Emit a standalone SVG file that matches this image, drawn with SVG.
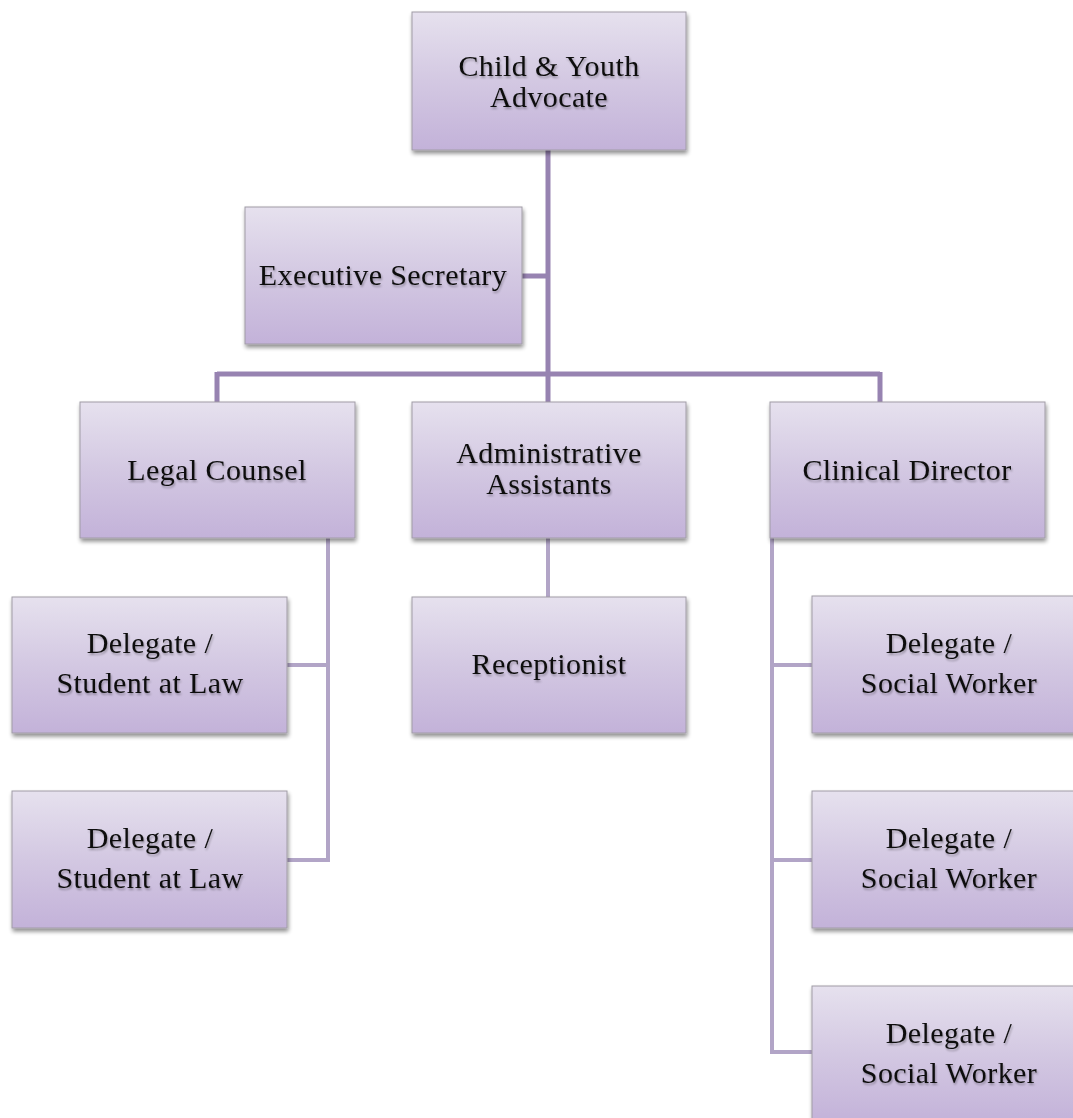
<svg xmlns="http://www.w3.org/2000/svg" width="1073" height="1118" viewBox="0 0 1073 1118">
  <defs>
    <linearGradient id="g" x1="0" y1="0" x2="0" y2="1">
      <stop offset="0" stop-color="#e6e1ee"/>
      <stop offset="0.5" stop-color="#d3c8e2"/>
      <stop offset="1" stop-color="#c3b2d9"/>
    </linearGradient>
    <filter id="sh" x="-10%" y="-10%" width="120%" height="125%">
      <feGaussianBlur in="SourceAlpha" stdDeviation="2"/>
      <feOffset dx="1" dy="3" result="b"/>
      <feComponentTransfer><feFuncA type="linear" slope="0.45"/></feComponentTransfer>
      <feMerge><feMergeNode/><feMergeNode in="SourceGraphic"/></feMerge>
    </filter>
    <filter id="ts" x="-5%" y="-20%" width="110%" height="140%">
      <feGaussianBlur in="SourceAlpha" stdDeviation="1"/>
      <feOffset dx="1" dy="1.5"/>
      <feComponentTransfer><feFuncA type="linear" slope="0.3"/></feComponentTransfer>
      <feMerge><feMergeNode/><feMergeNode in="SourceGraphic"/></feMerge>
    </filter>
  </defs>
  <style>
    rect.box { fill: url(#g); stroke: #a09ca6; stroke-width: 1; filter: url(#sh); }
    text { font-family: "Liberation Serif", "Times New Roman", serif; font-size: 30px; letter-spacing: 0.4px; fill: #111; text-anchor: middle; filter: url(#ts); }
    .c1 { stroke: #9783b1; stroke-width: 5; fill: none; }
    .c2 { stroke: #b2a5c7; stroke-width: 4; fill: none; }
  </style>
  <rect width="1073" height="1118" fill="#ffffff"/>
  <g id="connectors">
    <path class="c1" d="M548 150 V402 M522 276 H548 M217 374 H880 M217 372 V402 M880 372 V402"/>
    <path class="c2" d="M328 538 V860 H287 M287 665 H328"/>
    <path class="c2" d="M548 538 V597"/>
    <path class="c2" d="M772 538 V1052 H812 M772 665 H812 M772 860 H812"/>
  </g>
  <g id="n-advocate"><rect class="box" x="412" y="12" width="274" height="138"/><text x="549" y="76">Child &amp; Youth</text><text x="549" y="107">Advocate</text></g>
  <g id="n-secretary"><rect class="box" x="245" y="207" width="277" height="137"/><text x="383" y="285">Executive Secretary</text></g>
  <g id="n-legal"><rect class="box" x="80" y="402" width="275" height="136"/><text x="217" y="480">Legal Counsel</text></g>
  <g id="n-admin"><rect class="box" x="412" y="402" width="274" height="136"/><text x="549" y="463">Administrative</text><text x="549" y="494">Assistants</text></g>
  <g id="n-clinical"><rect class="box" x="770" y="402" width="275" height="136"/><text x="907" y="480">Clinical Director</text></g>
  <g id="n-student1"><rect class="box" x="12" y="597" width="275" height="136"/><text x="150" y="653">Delegate /</text><text x="150" y="693">Student at Law</text></g>
  <g id="n-receptionist"><rect class="box" x="412" y="597" width="274" height="136"/><text x="549" y="674">Receptionist</text></g>
  <g id="n-student2"><rect class="box" x="12" y="791" width="275" height="137"/><text x="150" y="848">Delegate /</text><text x="150" y="888">Student at Law</text></g>
  <g id="n-social1"><rect class="box" x="812" y="596" width="275" height="137"/><text x="949" y="653">Delegate /</text><text x="949" y="693">Social Worker</text></g>
  <g id="n-social2"><rect class="box" x="812" y="791" width="275" height="137"/><text x="949" y="848">Delegate /</text><text x="949" y="888">Social Worker</text></g>
  <g id="n-social3"><rect class="box" x="812" y="986" width="275" height="137"/><text x="949" y="1043">Delegate /</text><text x="949" y="1083">Social Worker</text></g>
</svg>
